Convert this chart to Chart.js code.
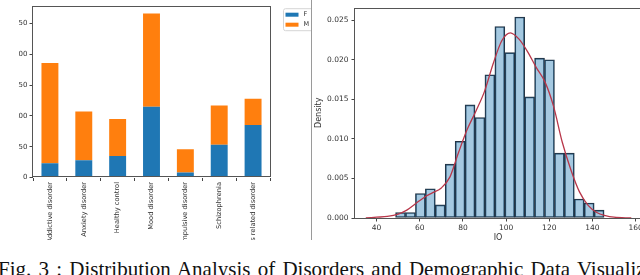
<!DOCTYPE html>
<html>
<head>
<meta charset="utf-8">
<script src="https://cdn.jsdelivr.net/npm/chart.js@4.4.0/dist/chart.umd.min.js"></script>
<style>
  html, body { margin: 0; padding: 0; background: #fff; }
  body { width: 640px; height: 275px; position: relative; overflow: hidden; }
  #leftBox { position: absolute; left: 18px; top: 0; width: 293px; height: 240px; overflow: hidden; }
  #leftBox canvas { position: absolute; left: -18px; top: 0; }
  #sep { position: absolute; left: 311px; top: 0; width: 1px; height: 240px; background: #9a9a9a; }
  #rightBox { position: absolute; left: 312px; top: 0; width: 328px; height: 240px; overflow: hidden; }
  #rightBox canvas { position: absolute; left: 0; top: 0; }
  #caption { position: absolute; left: -2px; top: 258px; white-space: nowrap;
             font: 21px "Liberation Serif"; line-height: 22px; word-spacing: 2px; color: #111; }
</style>
</head>
<body>
<div id="leftBox"><canvas id="countChart" width="312" height="300" style="width:312px;height:300px"></canvas></div>
<div id="sep"></div>
<div id="rightBox"><canvas id="iqChart" width="335" height="246" style="width:335px;height:246px"></canvas></div>
<div id="caption">Fig. 3 : Distribution Analysis of Disorders and Demographic Data Visualization</div>

<script>
// ── data ────────────────────────────────────────────────────
const disorders = ['Addictive disorder', 'Anxiety disorder', 'Healthy control', 'Mood disorder',
    'Obsessive compulsive disorder', 'Schizophrenia', 'Trauma and stress related disorder'];
const femaleCounts = [23, 28, 35, 115, 8, 53, 85];
const maleCounts = [163, 79, 60, 151, 38, 64, 43];
const countTicks = [0, 50, 100, 150, 200, 250];

const iqBinCenters = [51.1, 55.7, 60.3, 64.9, 69.5, 74.1, 78.7, 83.3, 87.9, 92.5, 97.1,
    101.7, 106.3, 110.9, 115.5, 120.1, 124.7, 129.3, 133.9, 138.5, 143.1];
const iqDensity = [0.0007, 0.0007, 0.0031, 0.0037, 0.00165, 0.0068, 0.0097, 0.0143, 0.0127, 0.0181, 0.0242,
    0.0209, 0.0254, 0.0153, 0.0202, 0.0200, 0.0082, 0.0082, 0.0024, 0.0019, 0.0010];
const kdeX = [35, 40, 45, 50, 54, 58, 62, 66, 70, 74, 78, 82, 86, 90, 94, 98, 102, 106, 110,
    114, 118, 122, 126, 130, 134, 138, 142, 146, 150, 158];
const kdeY = [0, 0.0001, 0.0002, 0.0005, 0.0010, 0.0018, 0.0026, 0.0032, 0.0038, 0.0052, 0.0083,
    0.0112, 0.0135, 0.0160, 0.0195, 0.0224, 0.0234, 0.0226, 0.0210, 0.0190, 0.0172, 0.0141,
    0.0096, 0.0061, 0.0033, 0.0016, 0.0007, 0.0003, 0.0001, 0];
const iqTicks = [40, 60, 80, 100, 120, 140, 160];
const densityTicks = [0, 0.005, 0.010, 0.015, 0.020, 0.025];

// ── helpers ─────────────────────────────────────────────────
const axisFont = { family: 'DejaVu Sans', size: 7 };
const frame = {
    id: 'frame',
    afterDatasetsDraw(chart) {
        const { ctx, chartArea: a } = chart;
        ctx.save();
        ctx.strokeStyle = '#555';
        ctx.lineWidth = 1;
        ctx.strokeRect(Math.round(a.left) - 0.5, Math.round(a.top) + 0.5,
            Math.round(a.right - a.left) + 1, Math.round(a.bottom - a.top) - 1);
        ctx.restore();
    }
};
const boxLegend = {
    id: 'boxLegend',
    afterDraw(chart) {
        const { ctx, chartArea } = chart;
        const x0 = chartArea.right + 13.5, y0 = chartArea.top + 2.5;
        ctx.save();
        ctx.strokeStyle = '#d5d5d5';
        ctx.lineWidth = 1;
        ctx.beginPath();
        ctx.roundRect(x0, y0, 40, 22, 2);
        ctx.stroke();
        ctx.font = '6.5px "DejaVu Sans"';
        ctx.textBaseline = 'middle';
        chart.data.datasets.forEach((ds, i) => {
            ctx.fillStyle = ds.backgroundColor;
            ctx.fillRect(x0 + 2, y0 + 4 + i * 10, 13, 4);
            ctx.fillStyle = '#333';
            ctx.fillText(ds.label, x0 + 20, y0 + 6 + i * 10);
        });
        ctx.restore();
    }
};

// ── Disorder counts stacked bars ────────────────────────────
new Chart(document.getElementById('countChart'), {
    type: 'bar',
    data: {
        labels: disorders,
        datasets: [
            { label: 'F', data: femaleCounts, backgroundColor: '#1f77b4', barPercentage: 0.5, categoryPercentage: 1 },
            { label: 'M', data: maleCounts, backgroundColor: '#ff7f0e', barPercentage: 0.5, categoryPercentage: 1 }
        ]
    },
    options: {
        responsive: false,
        animation: false,
        layout: { padding: { top: 1, left: 0, right: 42, bottom: 0 } },
        plugins: { legend: { display: false }, tooltip: { enabled: false } },
        scales: {
            x: {
                stacked: true,
                grid: { drawOnChartArea: false, tickLength: 3.5, color: '#444' },
                border: { display: false },
                ticks: { minRotation: 90, maxRotation: 90, autoSkip: false, padding: 1,
                         color: '#333', font: { family: 'DejaVu Sans', size: 6.7 } },
                afterFit: s => { s.height = 122.5; }
            },
            y: {
                stacked: true,
                min: 0,
                max: 278,
                afterBuildTicks: s => { s.ticks = countTicks.map(v => ({ value: v })); },
                grid: { drawOnChartArea: false, tickLength: 3.5, color: '#444' },
                border: { display: false },
                ticks: { padding: 2, color: '#333', font: axisFont },
                afterFit: s => { s.width = 33; }
            }
        }
    },
    plugins: [frame, boxLegend]
});

// ── IQ histogram with KDE ───────────────────────────────────
new Chart(document.getElementById('iqChart'), {
    type: 'bar',
    data: {
        datasets: [
            {
                type: 'line',
                data: kdeX.map((x, i) => ({ x, y: kdeY[i] })),
                borderColor: '#b8374a',
                borderWidth: 1.3,
                pointRadius: 0,
                tension: 0.4,
                cubicInterpolationMode: 'monotone',
                fill: false,
                order: 0
            },
            {
                data: iqBinCenters.map((x, i) => ({ x, y: iqDensity[i] })),
                backgroundColor: 'rgba(31,119,180,0.4)',
                borderColor: '#243444',
                borderWidth: 1,
                borderSkipped: false,
                barPercentage: 1,
                categoryPercentage: 1,
                order: 1
            }
        ]
    },
    options: {
        responsive: false,
        animation: false,
        layout: { padding: { top: 2, left: 0, right: 6, bottom: 0 } },
        plugins: { legend: { display: false }, tooltip: { enabled: false } },
        scales: {
            x: {
                type: 'linear',
                offset: false,
                min: 30,
                max: 162.5,
                afterBuildTicks: s => { s.ticks = iqTicks.map(v => ({ value: v })); },
                grid: { offset: false, drawOnChartArea: false, tickLength: 3.5, color: '#444' },
                border: { display: false },
                ticks: { padding: 2, color: '#333', font: { family: 'DejaVu Sans', size: 7.5 } },
                title: { display: true, text: 'IQ', color: '#333', padding: { top: 0, bottom: 3.5 },
                         font: { family: 'DejaVu Sans', size: 8 } },
                afterFit: s => { s.height = 28; }
            },
            y: {
                min: 0,
                max: 0.0266,
                afterBuildTicks: s => { s.ticks = densityTicks.map(v => ({ value: v })); },
                grid: { drawOnChartArea: false, tickLength: 3.5, color: '#444' },
                border: { display: false },
                ticks: { padding: 3, color: '#333', font: { family: 'DejaVu Sans', size: 7.5 },
                         callback: v => v.toFixed(3) },
                title: { display: true, text: 'Density', color: '#333', padding: { top: 2, bottom: 0 },
                         font: { family: 'DejaVu Sans', size: 8 } },
                afterFit: s => { s.width = 43; }
            }
        }
    },
    plugins: [frame]
});
</script>
</body>
</html>
